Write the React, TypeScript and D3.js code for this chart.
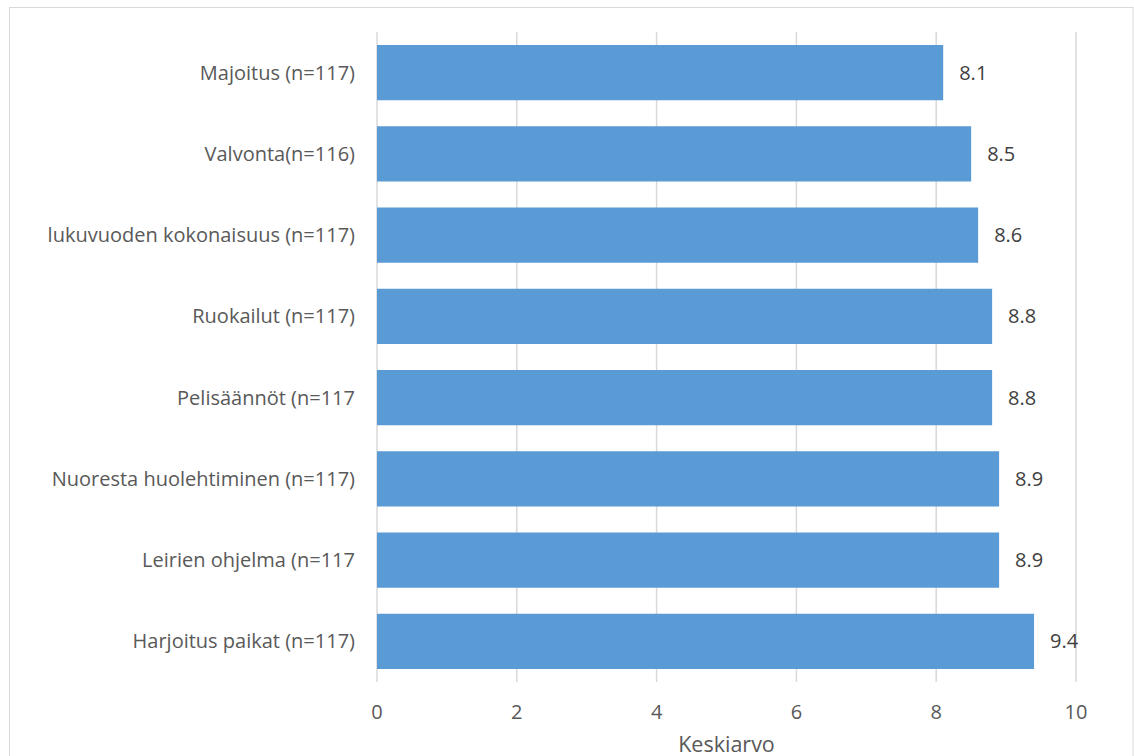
import React from "react";
import * as d3 from "d3";

const categories = [
  "Majoitus (n=117)",
  "Valvonta(n=116)",
  "lukuvuoden kokonaisuus (n=117)",
  "Ruokailut (n=117)",
  "Pelisäännöt (n=117",
  "Nuoresta huolehtiminen (n=117)",
  "Leirien ohjelma (n=117",
  "Harjoitus paikat (n=117)",
];
const values = [8.1, 8.5, 8.6, 8.8, 8.8, 8.9, 8.9, 9.4];
const xTicks = [0, 2, 4, 6, 8, 10];
const axisTitle = "Keskiarvo";

export default function App() {
  const W = 1134, H = 756;
  const left = 377, right = 1076, top = 32, bottom = 682;
  const x = d3.scaleLinear().domain([0, 10]).range([left, right]);
  const y = d3.scaleBand().domain(categories).range([top, bottom]).paddingInner(0.32).paddingOuter(0.16);
  const font = "'Open Sans', sans-serif";
  const grey = "#595959";
  return (
    <svg width={W} height={H} style={{ position: "absolute", left: 0, top: 0, background: "#fff" }} fontFamily={font}>
      <rect x={9.5} y={7.5} width={1123.5} height={H} fill="#fff" stroke="#d9d9d9" strokeWidth={1} />
      {xTicks.map((t) => (
        <line key={t} x1={x(t)} x2={x(t)} y1={top} y2={bottom} stroke="#d9d9d9" strokeWidth={1.5} />
      ))}
      {categories.map((c, i) => (
        <g key={c}>
          <rect x={x(0)} y={y(c)!} width={x(values[i]) - x(0)} height={y.bandwidth()} fill="#5b9bd5" />
          <text x={x(values[i]) + 16} y={y(c)! + y.bandwidth() / 2} dy="0.35em" fontSize={20} fill="#404040">
            {values[i].toFixed(1)}
          </text>
          <text x={355} y={y(c)! + y.bandwidth() / 2} dy="0.35em" fontSize={20} fill={grey} textAnchor="end">
            {c}
          </text>
        </g>
      ))}
      {xTicks.map((t) => (
        <text key={t} x={x(t)} y={712} dy="0.35em" fontSize={20} fill={grey} textAnchor="middle">
          {t}
        </text>
      ))}
      <text x={(left + right) / 2} y={744} dy="0.35em" fontSize={21.5} fill={grey} textAnchor="middle">
        {axisTitle}
      </text>
    </svg>
  );
}
